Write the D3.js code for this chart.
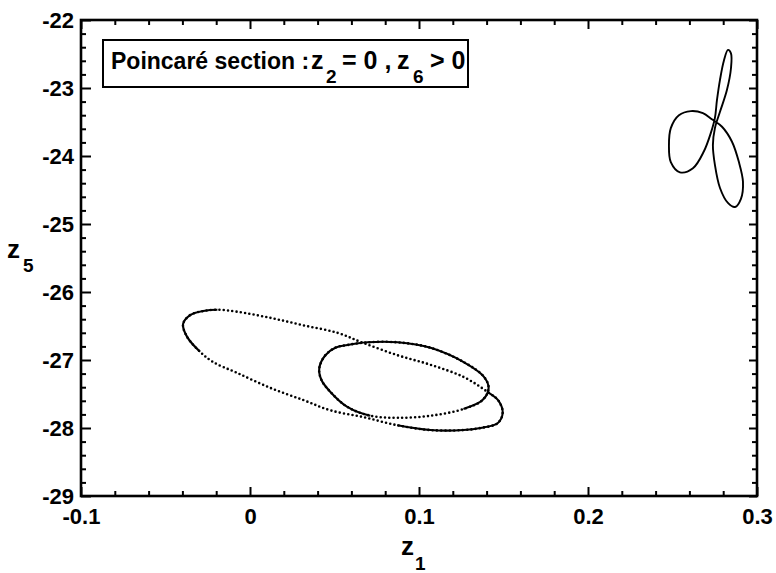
<!DOCTYPE html>
<html>
<head>
<meta charset="utf-8">
<script src="https://cdn.jsdelivr.net/npm/d3@7"></script>
<style>
  html, body { margin: 0; padding: 0; background: #fff; }
  svg { display: block; }
  text { font-family: "Liberation Sans", Arial, Helvetica, sans-serif; font-weight: bold; fill: #000; }
</style>
</head>
<body>
<svg id="chart" width="776" height="573"></svg>
<script>
// Axis ticks (z1 horizontal, z5 vertical)
const xTicks = [-0.1, 0, 0.1, 0.2, 0.3];
const xTickLabels = ["-0.1", "0", "0.1", "0.2", "0.3"];
const yTicks = [-29, -28, -27, -26, -25, -24, -23, -22];
const yTickLabels = ["-29", "-28", "-27", "-26", "-25", "-24", "-23", "-22"];

// Section points, [z1, z5], traced around each closed orbit
const outerLoop = [
  [-0.0396, -26.47], [-0.0354, -26.34], [-0.0277, -26.28], [-0.0194, -26.26],
  [-0.0076, -26.29], [0.0120, -26.38], [0.0316, -26.49], [0.0517, -26.60],
  [0.0671, -26.75], [0.0873, -26.93], [0.1068, -27.07], [0.1264, -27.25],
  [0.1406, -27.47], [0.1471, -27.60], [0.1495, -27.78], [0.1465, -27.93],
  [0.1364, -28.00], [0.1264, -28.03], [0.1068, -28.03], [0.0873, -27.96],
  [0.0671, -27.84], [0.0476, -27.74], [0.0316, -27.59], [0.0120, -27.41],
  [-0.0076, -27.19], [-0.0218, -27.03], [-0.0295, -26.88], [-0.0372, -26.66]
];
const innerLoop = [
  [0.0410, -27.12], [0.0446, -26.93], [0.0505, -26.82], [0.0576, -26.78],
  [0.0695, -26.74], [0.0873, -26.74], [0.1068, -26.82], [0.1264, -27.03],
  [0.1382, -27.24], [0.1412, -27.41], [0.1376, -27.59], [0.1264, -27.72],
  [0.1068, -27.82], [0.0873, -27.85], [0.0713, -27.82], [0.0576, -27.69],
  [0.0476, -27.47], [0.0422, -27.29]
];
const trefoil = [
  [0.2751, -23.44], [0.2763, -23.18], [0.2781, -22.88], [0.2804, -22.60],
  [0.2828, -22.44], [0.2846, -22.49], [0.2846, -22.71], [0.2822, -23.03],
  [0.2781, -23.35], [0.2751, -23.59], [0.2739, -23.84], [0.2751, -24.13],
  [0.2781, -24.47], [0.2828, -24.69], [0.2870, -24.75], [0.2905, -24.63],
  [0.2917, -24.38], [0.2893, -24.09], [0.2852, -23.79], [0.2793, -23.57],
  [0.2733, -23.46], [0.2680, -23.37], [0.2609, -23.34], [0.2538, -23.40],
  [0.2490, -23.59], [0.2479, -23.84], [0.2490, -24.09], [0.2544, -24.24],
  [0.2621, -24.18], [0.2686, -23.93], [0.2727, -23.66]
];

const svg = d3.select("#chart");
const plotLeft = 81, plotRight = 757, plotTop = 20, plotBottom = 496;

const x = d3.scaleLinear().domain([-0.1, 0.3]).range([plotLeft, plotRight]);
const y = d3.scaleLinear().domain([-29, -22]).range([plotBottom, plotTop]);

const isMajor = (v, step) => Math.abs(v / step - Math.round(v / step)) < 1e-6;
const xMinor = d3.range(-0.1, 0.3001, 0.02).filter(v => !isMajor(v, 0.1));
const yMinor = d3.range(-29, -21.999, 0.2).filter(v => !isMajor(v, 1));

function styleAxis(g) {
  g.select(".domain").remove();
  g.selectAll(".tick line").attr("stroke", "#000").attr("stroke-width", 2);
}

// Bottom axis with labels
svg.append("g").attr("transform", `translate(0,${plotBottom})`)
  .call(d3.axisBottom(x).tickValues(xTicks).tickFormat((d, i) => xTickLabels[i])
    .tickSizeInner(-9).tickSizeOuter(0).tickPadding(12))
  .call(styleAxis)
  .selectAll("text").attr("font-size", 22);
svg.append("g").attr("transform", `translate(0,${plotBottom})`)
  .call(d3.axisBottom(x).tickValues(xMinor).tickFormat("").tickSizeInner(-5).tickSizeOuter(0))
  .call(styleAxis);

// Top axis, ticks only
svg.append("g").attr("transform", `translate(0,${plotTop})`)
  .call(d3.axisTop(x).tickValues(xTicks).tickFormat("").tickSizeInner(-9).tickSizeOuter(0))
  .call(styleAxis);
svg.append("g").attr("transform", `translate(0,${plotTop})`)
  .call(d3.axisTop(x).tickValues(xMinor).tickFormat("").tickSizeInner(-5).tickSizeOuter(0))
  .call(styleAxis);

// Left axis with labels
svg.append("g").attr("transform", `translate(${plotLeft},0)`)
  .call(d3.axisLeft(y).tickValues(yTicks).tickFormat((d, i) => yTickLabels[i])
    .tickSizeInner(-10).tickSizeOuter(0).tickPadding(7))
  .call(styleAxis)
  .selectAll("text").attr("font-size", 22);
svg.append("g").attr("transform", `translate(${plotLeft},0)`)
  .call(d3.axisLeft(y).tickValues(yMinor).tickFormat("").tickSizeInner(-5).tickSizeOuter(0))
  .call(styleAxis);

// Right axis, ticks only
svg.append("g").attr("transform", `translate(${plotRight},0)`)
  .call(d3.axisRight(y).tickValues(yTicks).tickFormat("").tickSizeInner(-8).tickSizeOuter(0))
  .call(styleAxis);
svg.append("g").attr("transform", `translate(${plotRight},0)`)
  .call(d3.axisRight(y).tickValues(yMinor).tickFormat("").tickSizeInner(-5).tickSizeOuter(0))
  .call(styleAxis);

// Frame
svg.append("rect")
  .attr("x", plotLeft).attr("y", plotTop)
  .attr("width", plotRight - plotLeft).attr("height", plotBottom - plotTop)
  .attr("fill", "none").attr("stroke", "#000").attr("stroke-width", 2.6);

// Orbits
const line = d3.line().x(d => x(d[0])).y(d => y(d[1])).curve(d3.curveCatmullRomClosed.alpha(0.5));
const plot = svg.append("g");

// Arc length along a rendered path at which each vertex is reached
function vertexLengths(node, pts) {
  const L = node.getTotalLength();
  const samples = [];
  for (let s = 0; s <= L; s += 0.5) samples.push([s, node.getPointAtLength(s)]);
  return pts.map(p => {
    const px = x(p[0]), py = y(p[1]);
    let best = 0, bd = Infinity;
    for (const [s, q] of samples) {
      const d = (q.x - px) ** 2 + (q.y - py) ** 2;
      if (d < bd) { bd = d; best = s; }
    }
    return best;
  });
}

// Dash pattern that shows only the stretches between the given vertex pairs
function stretchDash(node, pts, stretches) {
  const L = node.getTotalLength();
  const lens = vertexLengths(node, pts);
  const segs = [];
  stretches.forEach(([a, b]) => {
    const s = lens[a], e = lens[b];
    if (e >= s) segs.push([s, e]);
    else { segs.push([s, L]); segs.push([0, e]); }
  });
  segs.sort((p, q) => p[0] - q[0]);
  const arr = [0];
  let pos = 0;
  segs.forEach(([s, e]) => { arr.push(Math.max(0, s - pos), e - s); pos = e; });
  arr.push(L - pos + 2);
  return arr.join(" ");
}

function orbit(pts, dotted, solidStretches, width) {
  const base = plot.append("path").attr("d", line(pts))
    .attr("fill", "none").attr("stroke", "#000").attr("stroke-width", width);
  if (dotted) {
    base.attr("stroke-dasharray", "0 4.3").attr("stroke-linecap", "round")
      .attr("stroke-width", width + 0.5);
    const solid = plot.append("path").attr("d", line(pts))
      .attr("fill", "none").attr("stroke", "#000").attr("stroke-width", width);
    solid.attr("stroke-dasharray", stretchDash(solid.node(), pts, solidStretches));
  }
  return base;
}

orbit(outerLoop, true, [[26, 3], [12, 19]], 2.1);
orbit(innerLoop, true, [[14, 11]], 2.1);
orbit(trefoil, false, [], 1.9);

// Legend box
svg.append("rect")
  .attr("x", 103).attr("y", 40).attr("width", 365).attr("height", 47)
  .attr("fill", "#fff").attr("stroke", "#000").attr("stroke-width", 2);

const lt = svg.append("text").attr("y", 69).attr("font-size", 23);
lt.append("tspan").attr("x", 111).text("Poincaré section :");
lt.append("tspan").attr("x", 311).attr("font-size", 25).text("z");
lt.append("tspan").attr("x", 326).attr("dy", 14).attr("font-size", 19).text("2");
lt.append("tspan").attr("x", 342).attr("dy", -14).attr("font-size", 25).text("= 0 ,");
lt.append("tspan").attr("x", 397).attr("font-size", 25).text("z");
lt.append("tspan").attr("x", 413).attr("dy", 14).attr("font-size", 19).text("6");
lt.append("tspan").attr("x", 430).attr("dy", -14).attr("font-size", 25).text("> 0");

// Axis titles
const xt = svg.append("text").attr("y", 555).attr("font-size", 26);
xt.append("tspan").attr("x", 401).text("z");
xt.append("tspan").attr("x", 415).attr("dy", 15).attr("font-size", 19).text("1");

const yt = svg.append("text").attr("y", 258).attr("font-size", 26);
yt.append("tspan").attr("x", 7).text("z");
yt.append("tspan").attr("x", 23).attr("dy", 14).attr("font-size", 19).text("5");
</script>
</body>
</html>
